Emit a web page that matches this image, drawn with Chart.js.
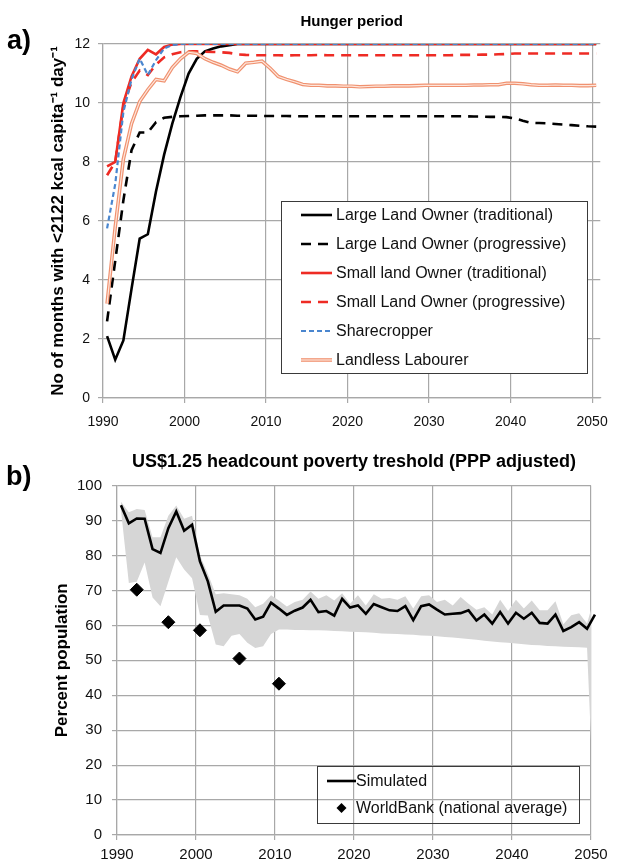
<!DOCTYPE html>
<html>
<head>
<meta charset="utf-8">
<script src="https://cdn.jsdelivr.net/npm/chart.js@4.4.0/dist/chart.umd.min.js"></script>
<style>
html, body { margin: 0; padding: 0; background: #fff; }
body { width: 619px; height: 862px; position: relative; overflow: hidden; font-family: "Liberation Sans", Arial, sans-serif; }
canvas { position: absolute; left: 0; }
.tag { position: absolute; z-index: 2; font-weight: bold; font-size: 27px; color: #000; }
</style>
</head>
<body>
<canvas id="hunger" width="619" height="436" style="top:0"></canvas>
<canvas id="poverty" width="619" height="432" style="top:430px"></canvas>
<div class="tag" style="left:7px; top:25px">a)</div>
<div class="tag" style="left:6px; top:461px">b)</div>
<script>
// years of the simulation (values sit mid-year)
const years = [
    1990, 1991, 1992, 1993, 1994, 1995, 1996, 1997, 1998, 1999,
    2000, 2001, 2002, 2003, 2004, 2005, 2006, 2007, 2008, 2009,
    2010, 2011, 2012, 2013, 2014, 2015, 2016, 2017, 2018, 2019,
    2020, 2021, 2022, 2023, 2024, 2025, 2026, 2027, 2028, 2029,
    2030, 2031, 2032, 2033, 2034, 2035, 2036, 2037, 2038, 2039,
    2040, 2041, 2042, 2043, 2044, 2045, 2046, 2047, 2048, 2049, 2050
];
const yearTicks = [1990, 2000, 2010, 2020, 2030, 2040, 2050];
const monthTicks = [0, 2, 4, 6, 8, 10, 12];
const percentTicks = [0, 10, 20, 30, 40, 50, 60, 70, 80, 90, 100];

// a) months of hunger per farmer type
const llTrad = [
    2.1, 1.3, 1.95, 3.7, 5.4, 5.55, 7.0, 8.25, 9.3, 10.2,
    11.0, 11.5, 11.75, 11.85, 11.92, 11.96, 12, 12, 12, 12,
    12, 12, 12, 12, 12, 12, 12, 12, 12, 12,
    12, 12, 12, 12, 12, 12, 12, 12, 12, 12,
    12, 12, 12, 12, 12, 12, 12, 12, 12, 12,
    12, 12, 12, 12, 12, 12, 12, 12, 12, 12, 12
];
const llProg = [
    2.6, 4.65, 6.7, 8.4, 9.0, 9.0, 9.35, 9.5, 9.53, 9.55,
    9.56, 9.57, 9.58, 9.58, 9.58, 9.58, 9.57, 9.57, 9.57, 9.56,
    9.56, 9.56, 9.56, 9.55, 9.55, 9.55, 9.55, 9.55, 9.55, 9.55,
    9.55, 9.55, 9.55, 9.55, 9.55, 9.55, 9.55, 9.55, 9.55, 9.55,
    9.55, 9.55, 9.55, 9.55, 9.55, 9.54, 9.54, 9.53, 9.53, 9.52,
    9.48, 9.4, 9.33, 9.32, 9.31, 9.29, 9.27, 9.25, 9.23, 9.21, 9.2
];
const slTrad = [
    7.85, 8.0, 10.0, 10.9, 11.5, 11.8, 11.65, 11.9, 11.98, 12,
    12, 12, 12, 12, 12, 12, 12, 12, 12, 12,
    12, 12, 12, 12, 12, 12, 12, 12, 12, 12,
    12, 12, 12, 12, 12, 12, 12, 12, 12, 12,
    12, 12, 12, 12, 12, 12, 12, 12, 12, 12,
    12, 12, 12, 12, 12, 12, 12, 12, 12, 12, 12
];
const slProg = [
    7.55, 8.0, 9.9, 10.7, 11.1, 10.95, 11.3, 11.55, 11.65, 11.72,
    11.75, 11.75, 11.74, 11.73, 11.72, 11.7, 11.65, 11.63, 11.62, 11.62,
    11.62, 11.62, 11.61, 11.62, 11.62, 11.62, 11.63, 11.62, 11.62, 11.62,
    11.62, 11.62, 11.62, 11.62, 11.62, 11.62, 11.62, 11.62, 11.62, 11.62,
    11.62, 11.62, 11.62, 11.63, 11.63, 11.63, 11.64, 11.64, 11.65, 11.66,
    11.68, 11.68, 11.68, 11.68, 11.68, 11.68, 11.68, 11.68, 11.68, 11.68, 11.68
];
const sharecropper = [
    5.75, 7.25, 9.7, 10.8, 11.5, 10.95, 11.45, 11.85, 11.97, 12,
    12, 12, 12, 12, 12, 12, 12, 12, 12, 12,
    12, 12, 12, 12, 12, 12, 12, 12, 12, 12,
    12, 12, 12, 12, 12, 12, 12, 12, 12, 12,
    12, 12, 12, 12, 12, 12, 12, 12, 12, 12,
    12, 12, 12, 12, 12, 12, 12, 12, 12, 12, 12
];
const landless = [
    3.2, 5.8, 8.1, 9.3, 10.05, 10.45, 10.8, 10.75, 11.2, 11.5,
    11.72, 11.68, 11.5, 11.38, 11.28, 11.15, 11.06, 11.35, 11.38, 11.42,
    11.18, 10.9, 10.8, 10.72, 10.63, 10.6, 10.6, 10.58, 10.58, 10.57,
    10.57, 10.55, 10.56, 10.57, 10.57, 10.58, 10.58, 10.58, 10.59, 10.6,
    10.6, 10.6, 10.6, 10.6, 10.6, 10.61, 10.61, 10.62, 10.62, 10.67,
    10.67, 10.65, 10.62, 10.6, 10.6, 10.61, 10.6, 10.6, 10.59, 10.59, 10.6
];

// b) poverty headcount
const simulated = [
    94.4, 89.2, 90.6, 90.5, 81.8, 80.7, 87.8, 92.6, 87.1, 88.8,
    78.3, 72.6, 63.9, 65.7, 65.7, 65.7, 64.8, 61.7, 62.5, 66.5,
    64.8, 63.0, 64.2, 65.1, 67.3, 63.8, 64.1, 62.8, 67.6, 65.1,
    65.7, 63.3, 66.1, 65.2, 64.3, 64.1, 65.5, 61.5, 65.5, 66.0,
    64.5, 63.1, 63.3, 63.5, 64.3, 61.4, 63.1, 60.5, 63.8, 60.5,
    63.6, 61.9, 63.6, 60.7, 60.5, 63.1, 58.4, 59.5, 60.9, 59.0, 63.1
];
const bandHigh = [
    95.4, 92.4, 93.3, 93.0, 85.2, 85.2, 91.4, 94.3, 90.5, 91.4,
    80.0, 74.8, 68.9, 69.2, 68.9, 68.6, 67.6, 65.2, 66.2, 68.6,
    67.1, 65.4, 66.7, 67.3, 69.7, 67.6, 68.6, 67.1, 69.2, 66.2,
    68.6, 65.7, 68.9, 67.6, 67.8, 67.3, 68.3, 64.8, 68.3, 68.6,
    66.7, 67.3, 65.7, 68.1, 66.2, 64.5, 65.2, 63.1, 67.3, 64.1,
    67.3, 64.8, 67.1, 64.3, 64.3, 66.9, 60.3, 62.9, 63.5, 60.5, 68.6
];
const bandLow = [
    93.0, 72.1, 72.5, 78.0, 68.0, 65.5, 72.5, 79.5, 76.0, 73.5,
    63.0, 62.8, 54.5, 54.0, 57.0, 57.5, 55.0, 53.5, 54.0, 57.5,
    58.8, 58.8, 58.7, 58.7, 58.6, 58.6, 58.5, 58.4, 58.3, 58.2,
    58.1, 58.0, 57.9, 57.7, 57.6, 57.5, 57.4, 57.3, 57.1, 57.0,
    56.9, 56.7, 56.5, 56.3, 56.1, 55.9, 55.6, 55.4, 55.2, 55.0,
    54.8, 54.6, 54.4, 54.3, 54.1, 54.0, 53.9, 53.8, 53.7, 53.6, 0
];
const wbYears = [1992.5, 1996.5, 2000.5, 2005.5, 2010.5];
const wbValues = [70.2, 60.9, 58.6, 50.5, 43.3];

const FONT = '"Liberation Sans", Arial, sans-serif';
const GRID = '#a8a8a8';

const xy = vals => vals.map((v, i) => ({ x: years[i] + 0.5, y: v }));

// legend drawn in a box inside the plot, like the spreadsheet original
const boxLegend = {
    id: 'boxLegend',
    afterDatasetsDraw(chart, args, o) {
        const ctx = chart.ctx;
        ctx.save();
        if (o.fill) {
            ctx.fillStyle = o.fill;
            ctx.fillRect(o.x, o.y, o.w, o.h);
        }
        ctx.strokeStyle = '#3a3a3a';
        ctx.lineWidth = 1;
        ctx.strokeRect(o.x + 0.5, o.y + 0.5, o.w, o.h);
        ctx.font = o.font;
        ctx.textBaseline = 'middle';
        let row = 0;
        chart.data.datasets.forEach(ds => {
            if (ds.noLegend) return;
            const cy = o.y + o.first + row * o.rowH;
            if (ds.showLine === false) {
                ctx.fillStyle = ds.pointBackgroundColor;
                ctx.beginPath();
                ctx.moveTo(o.sx + o.sw / 2, cy - 5);
                ctx.lineTo(o.sx + o.sw / 2 + 5, cy);
                ctx.lineTo(o.sx + o.sw / 2, cy + 5);
                ctx.lineTo(o.sx + o.sw / 2 - 5, cy);
                ctx.closePath();
                ctx.fill();
            } else {
                ctx.strokeStyle = ds.borderColor;
                ctx.lineWidth = ds.borderWidth;
                ctx.setLineDash(ds.borderDash || []);
                ctx.beginPath();
                ctx.moveTo(o.sx, cy);
                ctx.lineTo(o.sx + o.sw, cy);
                ctx.stroke();
                if (ds.innerColor) {
                    ctx.strokeStyle = ds.innerColor;
                    ctx.lineWidth = ds.innerWidth;
                    ctx.beginPath();
                    ctx.moveTo(o.sx, cy);
                    ctx.lineTo(o.sx + o.sw, cy);
                    ctx.stroke();
                }
                ctx.setLineDash([]);
            }
            ctx.fillStyle = '#111';
            ctx.fillText(ds.label, o.tx, cy + 1);
            row++;
        });
        ctx.restore();
    }
};

const setTicks = list => axis => { axis.ticks = list.map(v => ({ value: v })); };

const hungerCtx = document.getElementById('hunger');
new Chart(hungerCtx, {
    type: 'line',
    data: {
        datasets: [
            { label: 'Large Land Owner (traditional)', data: xy(llTrad), borderColor: '#000', borderWidth: 2.6, order: 6 },
            { label: 'Large Land Owner (progressive)', data: xy(llProg), borderColor: '#000', borderWidth: 2.6, borderDash: [10, 7], order: 5 },
            { label: 'Small land Owner (traditional)', data: xy(slTrad), borderColor: '#ee2b24', borderWidth: 2.6, order: 4 },
            { label: 'Small Land Owner (progressive)', data: xy(slProg), borderColor: '#ee2b24', borderWidth: 2.6, borderDash: [10, 7], order: 3 },
            { label: 'Sharecropper', data: xy(sharecropper), borderColor: '#4a86cf', borderWidth: 2.2, borderDash: [5, 3], order: 2 },
            { label: 'Landless Labourer', data: xy(landless), borderColor: '#f0916f', borderWidth: 3.6, innerColor: '#fde6dc', innerWidth: 1.2, order: 1 },
            { label: '', data: xy(landless), borderColor: '#fde6dc', borderWidth: 1.2, noLegend: true, order: 0 }
        ]
    },
    options: {
        responsive: false,
        animation: false,
        events: [],
        elements: { point: { radius: 0 }, line: { tension: 0, fill: false } },
        layout: { padding: { left: 40, right: 14, top: 0, bottom: 0 } },
        plugins: {
            legend: { display: false },
            tooltip: { enabled: false },
            title: {
                display: true, text: 'Hunger period', fullSize: false, color: '#000',
                font: { family: FONT, size: 15, weight: 'bold' }, padding: { top: 13, bottom: 13 }
            },
            boxLegend: {
                x: 281, y: 201, w: 306, h: 172, first: 14, rowH: 29,
                sx: 301, sw: 31, tx: 336, fill: '#fff', font: '16px ' + FONT
            }
        },
        scales: {
            x: {
                type: 'linear', min: 1990, max: 2051,
                afterBuildTicks: setTicks(yearTicks),
                afterFit: s => { s.height = 38; },
                ticks: { color: '#111', font: { family: FONT, size: 14 }, padding: 11, maxRotation: 0, callback: v => String(v) },
                grid: { color: GRID, lineWidth: 1.2, tickLength: 5 },
                border: { color: GRID, width: 1.2 }
            },
            y: {
                min: 0, max: 12,
                afterBuildTicks: setTicks(monthTicks),
                afterFit: s => { s.width = 63; },
                ticks: { color: '#111', font: { family: FONT, size: 14 }, padding: 8 },
                grid: { color: GRID, lineWidth: 1.2, tickLength: 5 },
                border: { color: GRID, width: 1.2 },
                title: {
                    display: true, text: 'No of months with <2122 kcal capita\u207B\u00B9 day\u207B\u00B9',
                    color: '#000', font: { family: FONT, size: 17, weight: 'bold' }, padding: { top: 8, bottom: 0 }
                }
            }
        }
    },
    plugins: [boxLegend]
});

const povertyCtx = document.getElementById('poverty');
new Chart(povertyCtx, {
    type: 'line',
    data: {
        datasets: [
            { label: 'Simulated', data: xy(simulated), borderColor: '#000', borderWidth: 2.6, clip: false, order: 1 },
            {
                label: 'WorldBank (national average)', data: wbYears.map((x, i) => ({ x, y: wbValues[i] })),
                showLine: false, pointStyle: 'rectRot', pointRadius: 6.5, pointBackgroundColor: '#000',
                pointBorderColor: '#000', borderColor: '#000', order: 0
            },
            { label: 'high', data: xy(bandHigh), borderWidth: 0, borderColor: 'rgba(0,0,0,0)', backgroundColor: '#d6d6d6', fill: '+1', clip: false, noLegend: true, order: 3 },
            { label: 'low', data: xy(bandLow), borderWidth: 0, borderColor: 'rgba(0,0,0,0)', fill: false, clip: false, noLegend: true, order: 4 }
        ]
    },
    options: {
        responsive: false,
        animation: false,
        events: [],
        elements: { point: { radius: 0 }, line: { tension: 0 } },
        layout: { padding: { left: 40, right: 28, top: 0, bottom: 0 } },
        plugins: {
            legend: { display: false },
            tooltip: { enabled: false },
            title: {
                display: true, text: 'US$1.25 headcount poverty treshold (PPP adjusted)', fullSize: false, color: '#000',
                font: { family: FONT, size: 18, weight: 'bold' }, padding: { top: 21, bottom: 13 }
            },
            boxLegend: {
                x: 317, y: 336, w: 262, h: 57, first: 15, rowH: 27,
                sx: 327, sw: 29, tx: 356, fill: null, font: '16px ' + FONT
            }
        },
        scales: {
            x: {
                type: 'linear', min: 1990, max: 2050,
                afterBuildTicks: setTicks(yearTicks),
                afterFit: s => { s.height = 27; },
                ticks: { color: '#111', font: { family: FONT, size: 15 }, padding: 6, maxRotation: 0, callback: v => String(v) },
                grid: { color: GRID, lineWidth: 1.2, tickLength: 5 },
                border: { color: GRID, width: 1.2 }
            },
            y: {
                min: 0, max: 100,
                afterBuildTicks: setTicks(percentTicks),
                afterFit: s => { s.width = 77; },
                ticks: { color: '#111', font: { family: FONT, size: 15 }, padding: 10 },
                grid: { color: GRID, lineWidth: 1.2, tickLength: 5 },
                border: { color: GRID, width: 1.2 },
                title: {
                    display: true, text: 'Percent population',
                    color: '#000', font: { family: FONT, size: 17, weight: 'bold' }, padding: { top: 12, bottom: 0 }
                }
            }
        }
    },
    plugins: [boxLegend]
});
</script>
</body>
</html>
